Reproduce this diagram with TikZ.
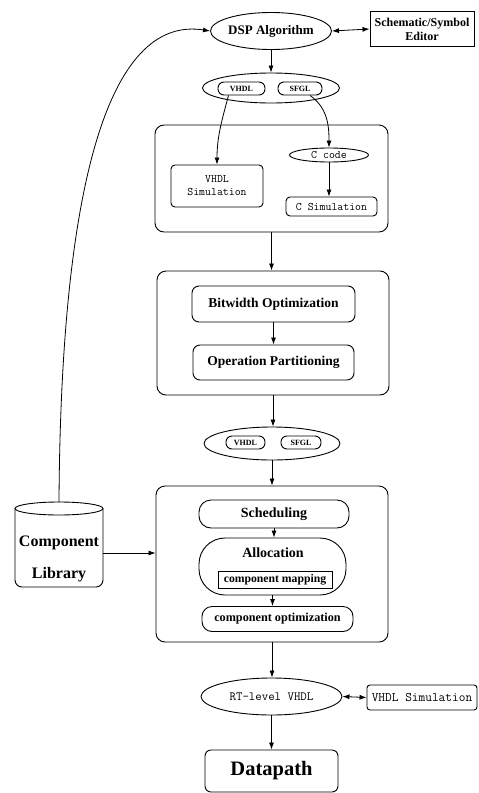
\documentclass[tikz,border=0pt]{standalone}
\usepackage{fontspec}
\setmainfont{Liberation Serif}
\usetikzlibrary{shapes.geometric,arrows.meta}

\begin{document}
\begin{tikzpicture}[
    x=1pt, y=-1pt,
    box/.style={
        rectangle, draw=black, line width=0.9pt, rounded corners=9pt,
        inner sep=0pt
    },
    step box/.style={
        rectangle, draw=black, line width=0.9pt, rounded corners=7pt,
        inner sep=0pt, font=\bfseries\fontsize{13.5}{15}\selectfont
    },
    oval/.style={
        ellipse, draw=black, line width=0.9pt, inner sep=0pt
    },
    pill/.style={
        rectangle, draw=black, line width=0.9pt, rounded corners=6pt,
        inner sep=0pt, minimum height=13, font=\bfseries\fontsize{8}{9}\selectfont
    },
    simtxt/.style={font=\ttfamily\fontsize{11.5}{13}\selectfont},
    arr/.style={-{Latex[length=7pt,width=5pt]}, line width=0.8pt},
    darr/.style={{Latex[length=7pt,width=5pt]}-{Latex[length=7pt,width=5pt]}, line width=0.8pt}
]
\useasboundingbox (0,0) rectangle (479,793);

% --- Entry ---
\node[oval, minimum width=92, minimum height=37,
      font=\bfseries\fontsize{13}{15}\selectfont] (dsp) at (271,31) {DSP Algorithm};
\node[rectangle, draw=black, line width=0.9pt, minimum width=104, minimum height=35,
      inner sep=0pt, align=center,
      font=\bfseries\fontsize{12}{14}\selectfont] (editor) at (422,29) {Schematic/Symbol\\Editor};

% --- Source descriptions ---
\node[oval, minimum width=137, minimum height=30] (srcA) at (271,88) {};
\node[pill, minimum width=47] (vhdlA) at (241.5,88.5) {VHDL};
\node[pill, minimum width=44] (sfglA) at (300,88.5) {SFGL};

% --- Simulation ---
\node[box, minimum width=233, minimum height=107] (sim) at (271.5,178.5) {};
\node[box, rounded corners=4pt, simtxt, minimum width=92, minimum height=42,
      align=center] (vsim) at (217,186) {VHDL\\Simulation};
\node[oval, simtxt, minimum width=79, minimum height=14] (ccode) at (329,155) {C code};
\node[box, rounded corners=4pt, simtxt, minimum width=91, minimum height=19] (csim) at (331.5,206.5) {C Simulation};

% --- Optimization ---
\node[box, minimum width=232, minimum height=124] (opt) at (273,333) {};
\node[step box, minimum width=163, minimum height=36] (bitw) at (273.5,304) {Bitwidth Optimization};
\node[step box, minimum width=161, minimum height=35] (part) at (273.5,362.5) {Operation Partitioning};

% --- Partitioned descriptions ---
\node[oval, minimum width=136, minimum height=33] (srcB) at (272,443.5) {};
\node[pill, minimum width=39] (vhdlB) at (245.5,442.5) {VHDL};
\node[pill, minimum width=40] (sfglB) at (301,442.5) {SFGL};

% --- Synthesis ---
\node[box, minimum width=232, minimum height=156] (syn) at (272,564) {};
\node[step box, rounded corners=12pt, minimum width=150, minimum height=28,
      font=\bfseries\fontsize{14}{16}\selectfont] (sched) at (274,514) {Scheduling};
\node[box, rounded corners=26pt, minimum width=147, minimum height=57] (alloc) at (272.5,566.5) {};
\node[font=\bfseries\fontsize{14}{16}\selectfont] (alloctxt) at (273,553) {Allocation};
\node[rectangle, draw=black, line width=0.9pt, minimum width=114, minimum height=17,
      inner sep=0pt, font=\bfseries\fontsize{11.7}{13}\selectfont] (map) at (275,579.5) {component mapping};
\node[step box, rounded corners=10pt, minimum width=151, minimum height=25,
      font=\bfseries\fontsize{12.2}{14}\selectfont] (copt) at (277.5,619) {component optimization};

% --- Output ---
\node[oval, font=\ttfamily\fontsize{12.5}{14}\selectfont, minimum width=141,
      minimum height=37] (rtl) at (271.5,696.5) {RT-level VHDL};
\node[box, rounded corners=3pt, font=\ttfamily\fontsize{13}{15}\selectfont,
      minimum width=110, minimum height=25] (vsim2) at (422,697.5) {VHDL Simulation};
\node[box, rounded corners=6pt, minimum width=133, minimum height=42,
      font=\bfseries\fontsize{20.5}{23}\selectfont] (dpath) at (271.5,771) {Datapath};

% --- Component library ---
\node[minimum width=88, inner sep=0pt, align=center,
      font=\bfseries\fontsize{16}{32}\selectfont] (lib) at (59,559) {Component\\Library};
\draw[line width=0.9pt, rounded corners=7pt]
    ([shift={(-44,-50.5)}]lib.center) -- ([shift={(-44,28)}]lib.center)
    -- ([shift={(44,28)}]lib.center) -- ([shift={(44,-50.5)}]lib.center);
\draw[line width=0.9pt] ([shift={(0,-50.5)}]lib.center) ellipse (44pt and 6.5pt);
\coordinate (libtop) at ([shift={(0,-57)}]lib.center);

% --- Arrows ---
\draw[darr] (dsp.east) -- (editor.west);
\draw[arr] (dsp.south) -- (dsp.south |- srcA.north);
\draw[arr] ([xshift=-13pt]vhdlA.south) to[out=-105, in=90] (vsim.north);
\draw[arr] ([xshift=10pt]sfglA.south) to[out=-35, in=90] (ccode.north);
\draw[arr] (ccode.south) -- (ccode.south |- csim.north);
\draw[arr] (sim.south) -- (sim.south |- opt.north);
\draw[arr] (bitw.south) -- (bitw.south |- part.north);
\draw[arr] (opt.south) -- (opt.south |- srcB.north);
\draw[arr] (srcB.south) -- (srcB.south |- syn.north);
\draw[arr] (sched.south) -- (sched.south |- alloc.north);
\draw[arr] (alloc.south) -- (alloc.south |- copt.north);
\draw[arr] (syn.south) -- (syn.south |- rtl.north);
\draw[darr] (rtl.east) -- (vsim2.west);
\draw[arr] (rtl.south) -- (rtl.south |- dpath.north);
\draw[arr] ([yshift=6pt]lib.east) -- ([yshift=6pt]lib.east -| syn.west);
\draw[arr] (libtop) .. controls +(2,-340) and +(-95,-15) .. (dsp.west);

\end{tikzpicture}
\end{document}
